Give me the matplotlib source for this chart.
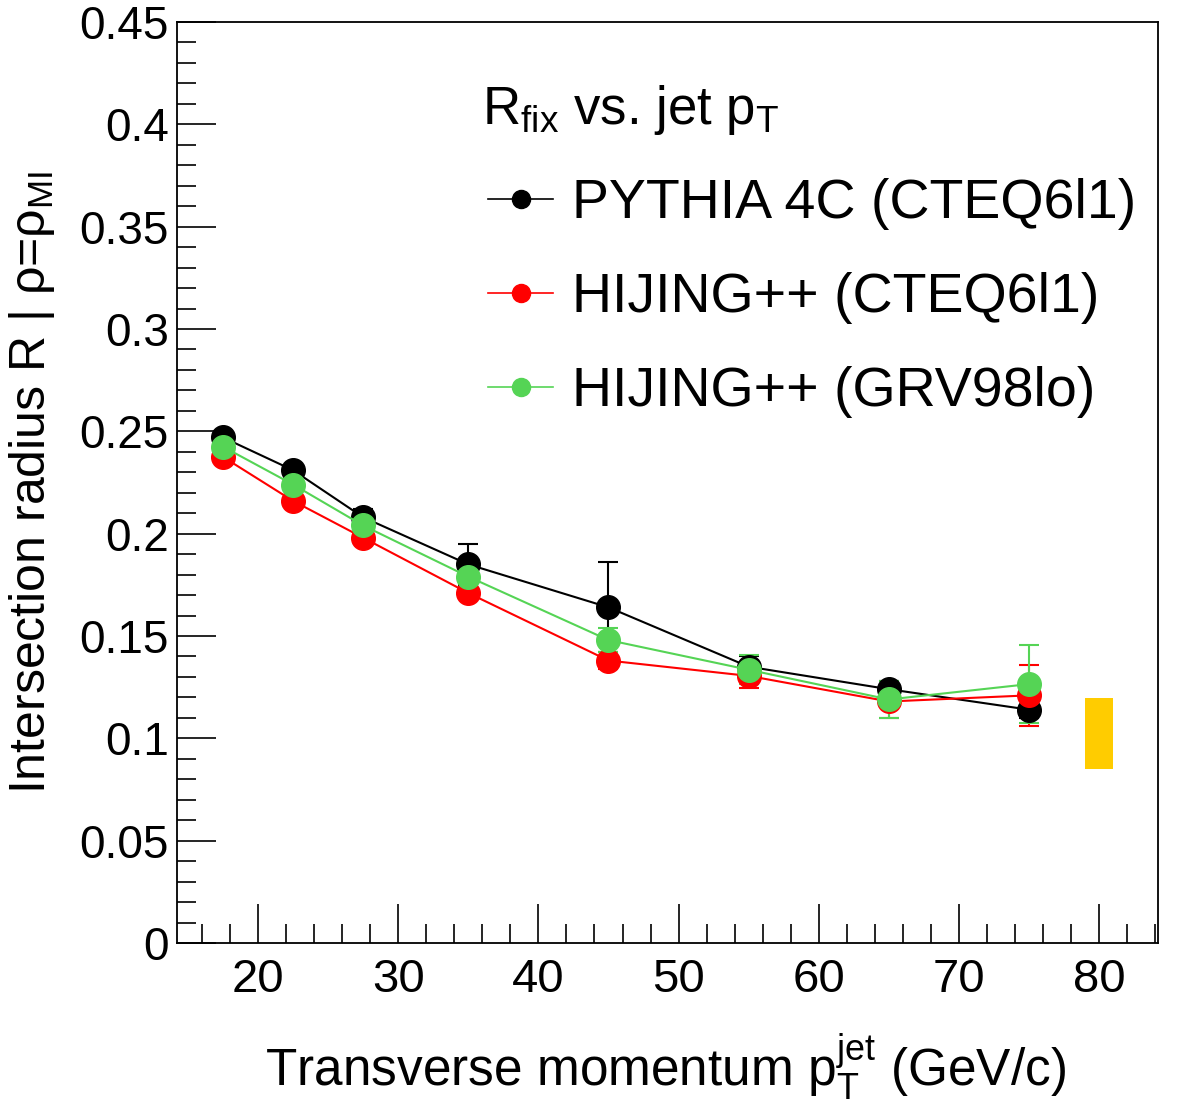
import numpy as np
import matplotlib
matplotlib.use("Agg")
import matplotlib.pyplot as plt
from matplotlib.lines import Line2D
from matplotlib.ticker import MultipleLocator

plt.rcParams['font.family'] = ['Liberation Sans', 'DejaVu Sans']
plt.rcParams['mathtext.fontset'] = 'custom'
plt.rcParams['mathtext.rm'] = 'Liberation Sans'
plt.rcParams['mathtext.it'] = 'Liberation Sans'

# jet pT bins (GeV/c)
pt = [17.5, 22.5, 27.5, 35, 45, 55, 65, 75]

# PYTHIA 4C (CTEQ6l1)
r_pythia = [0.247, 0.231, 0.208, 0.185, 0.164, 0.135, 0.124, 0.114]
e_pythia = [0.002, 0.002, 0.004, 0.010, 0.022, 0.005, 0.004, 0.004]

# HIJING++ (CTEQ6l1)
r_hij_cteq = [0.2375, 0.216, 0.198, 0.171, 0.138, 0.1305, 0.118, 0.121]
e_hij_cteq = [0.002, 0.002, 0.003, 0.003, 0.004, 0.006, 0.008, 0.015]

# HIJING++ (GRV98lo)
r_hij_grv = [0.2425, 0.224, 0.204, 0.179, 0.148, 0.1335, 0.119, 0.1265]
e_hij_grv = [0.002, 0.002, 0.003, 0.003, 0.006, 0.007, 0.009, 0.019]

# fixed R band
band_x = 80
band_lo = 0.085
band_hi = 0.1197

fig = plt.figure(figsize=(11.82, 11.11), dpi=100)
ax = fig.add_axes([177/1182, 1 - 943/1111, (1158-177)/1182, (943-22)/1111])

series = [
    (r_pythia, e_pythia, 'black', 'PYTHIA 4C (CTEQ6l1)'),
    (r_hij_cteq, e_hij_cteq, '#ff0000', 'HIJING++ (CTEQ6l1)'),
    (r_hij_grv, e_hij_grv, '#55d455', 'HIJING++ (GRV98lo)'),
]
handles = []
for y, e, c, lab in series:
    ax.errorbar(pt, y, yerr=e, fmt='o', color=c, ms=17, capsize=7, elinewidth=1.5, capthick=1.5, lw=1.5, ls='-')
    handles.append(Line2D([], [], color=c, marker='o', ms=13, lw=1.2, label=lab))

ax.bar(band_x, band_hi - band_lo, bottom=band_lo, width=2, color='#ffcc00', zorder=1)

ax.set_xlim(14.22, 84.2)
ax.set_ylim(0, 0.45)
ax.xaxis.set_major_locator(MultipleLocator(10))
ax.xaxis.set_minor_locator(MultipleLocator(2))
ax.yaxis.set_major_locator(MultipleLocator(0.05))
ax.yaxis.set_minor_locator(MultipleLocator(0.01))
ax.tick_params(which='both', direction='in', top=False, right=False, width=1.2)
ax.tick_params(which='major', length=28)
ax.tick_params(which='minor', length=14)
ax.tick_params(axis='x', labelsize=34, pad=11)
ax.tick_params(axis='y', labelsize=33, pad=6)
ax.yaxis.set_major_formatter(plt.FuncFormatter(lambda v, p: ('%g' % round(v, 2))))
for s in ax.spines.values():
    s.set_linewidth(1.3)

ax.set_ylabel(r'Intersection radius R | $\rho$=$\rho_{\mathrm{MI}}$', fontsize=36, labelpad=16)
fig.text(665/1182, 1 - 1086/1111, r'Transverse momentum p$_{\mathrm{T}}^{\mathrm{jet}}$ (GeV/c)',
         fontsize=37, ha='center', va='baseline')

fig.text(482/1182, 1 - 110/1111, r'R$_{\mathrm{fix}}$ vs. jet p$_{\mathrm{T}}$', fontsize=38, va='center', ha='left')
ax.legend(handles=handles, loc='upper left', bbox_to_anchor=((488-177)/981, 1 - (178-22)/921),
          frameon=False, fontsize=40, handlelength=1.17, handletextpad=0.34, labelspacing=0.76,
          borderpad=0, borderaxespad=0)

fig.savefig('out.png', dpi=100)
